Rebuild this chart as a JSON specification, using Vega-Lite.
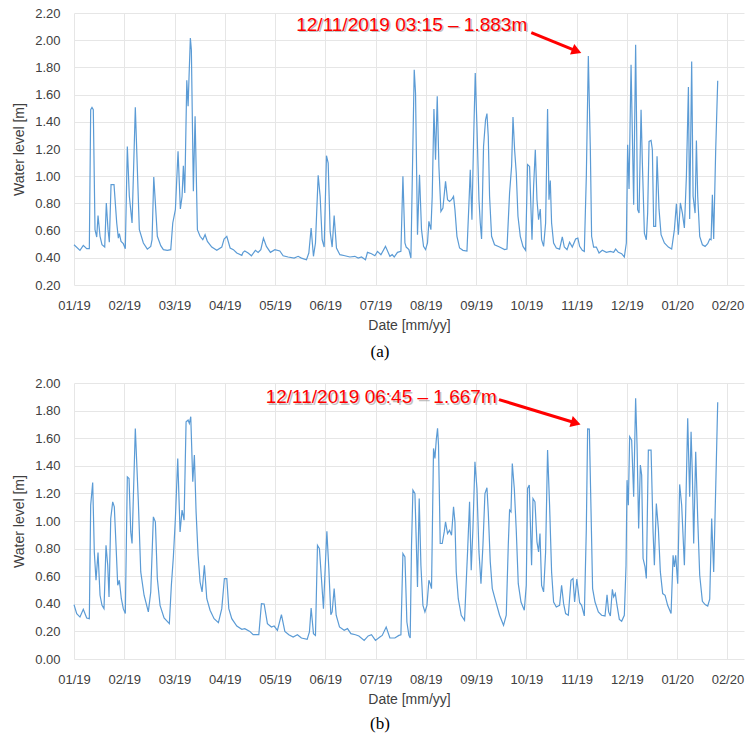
{
  "$schema": "https://vega.github.io/schema/vega-lite/v6.json",
  "padding": {"left": 12, "top": 7, "right": 10, "bottom": 5},
  "background": "white",
  "spacing": 17,
  "config": {
    "view": {"stroke": null},
    "axis": {
      "labelFont": "Liberation Sans", "labelFontSize": 13, "labelColor": "#404040",
      "titleFont": "Liberation Sans", "titleFontSize": 14, "titleFontWeight": "normal", "titleColor": "#404040",
      "gridColor": "#e6e6e6", "gridWidth": 1, "domain": false, "ticks": false,
      "labelOverlap": false, "labelFlush": false, "labelBound": false
    }
  },
  "datasets": {
    "a": [
      {"m":0,"v":0.496},{"m":0.119,"v":0.455},{"m":0.185,"v":0.491},{"m":0.253,"v":0.467},{"m":0.305,"v":0.467},{"m":0.332,"v":1.489},{"m":0.358,"v":1.506},{"m":0.384,"v":1.489},{"m":0.418,"v":0.607},{"m":0.452,"v":0.553},{"m":0.478,"v":0.710},{"m":0.518,"v":0.558},{"m":0.557,"v":0.496},{"m":0.611,"v":0.479},{"m":0.643,"v":0.803},{"m":0.677,"v":0.607},{"m":0.703,"v":0.514},{"m":0.737,"v":0.938},{"m":0.796,"v":0.938},{"m":0.850,"v":0.656},{"m":0.882,"v":0.545},{"m":0.902,"v":0.577},{"m":0.936,"v":0.521},{"m":0.981,"v":0.504},{"m":1.021,"v":0.467},{"m":1.061,"v":1.219},{"m":1.101,"v":0.852},{"m":1.155,"v":0.656},{"m":1.220,"v":1.506},{"m":1.300,"v":0.607},{"m":1.380,"v":0.509},{"m":1.459,"v":0.464},{"m":1.527,"v":0.484},{"m":1.553,"v":0.533},{"m":1.587,"v":0.994},{"m":1.619,"v":0.803},{"m":1.658,"v":0.558},{"m":1.726,"v":0.489},{"m":1.778,"v":0.460},{"m":1.857,"v":0.455},{"m":1.925,"v":0.460},{"m":1.965,"v":0.656},{"m":2.017,"v":0.754},{"m":2.070,"v":1.183},{"m":2.116,"v":0.759},{"m":2.150,"v":0.852},{"m":2.176,"v":1.077},{"m":2.204,"v":0.876},{"m":2.244,"v":1.705},{"m":2.270,"v":1.514},{"m":2.289,"v":1.734},{"m":2.315,"v":2.016},{"m":2.335,"v":1.930},{"m":2.375,"v":0.889},{"m":2.409,"v":1.440},{"m":2.455,"v":0.607},{"m":2.508,"v":0.558},{"m":2.562,"v":0.533},{"m":2.608,"v":0.570},{"m":2.654,"v":0.521},{"m":2.741,"v":0.479},{"m":2.841,"v":0.455},{"m":2.940,"v":0.479},{"m":2.986,"v":0.538},{"m":3.040,"v":0.558},{"m":3.106,"v":0.472},{"m":3.171,"v":0.460},{"m":3.239,"v":0.435},{"m":3.339,"v":0.418},{"m":3.364,"v":0.440},{"m":3.398,"v":0.450},{"m":3.464,"v":0.435},{"m":3.530,"v":0.415},{"m":3.609,"v":0.455},{"m":3.663,"v":0.440},{"m":3.717,"v":0.460},{"m":3.769,"v":0.545},{"m":3.828,"v":0.484},{"m":3.908,"v":0.440},{"m":3.996,"v":0.460},{"m":4.095,"v":0.450},{"m":4.161,"v":0.415},{"m":4.260,"v":0.406},{"m":4.380,"v":0.398},{"m":4.459,"v":0.411},{"m":4.525,"v":0.398},{"m":4.625,"v":0.386},{"m":4.672,"v":0.435},{"m":4.718,"v":0.619},{"m":4.764,"v":0.411},{"m":4.804,"v":0.509},{"m":4.858,"v":1.006},{"m":4.897,"v":0.852},{"m":4.937,"v":0.533},{"m":4.977,"v":0.479},{"m":5.023,"v":1.151},{"m":5.057,"v":1.097},{"m":5.096,"v":0.594},{"m":5.136,"v":0.479},{"m":5.176,"v":0.710},{"m":5.222,"v":0.472},{"m":5.290,"v":0.423},{"m":5.389,"v":0.415},{"m":5.489,"v":0.406},{"m":5.588,"v":0.411},{"m":5.654,"v":0.398},{"m":5.720,"v":0.406},{"m":5.799,"v":0.386},{"m":5.839,"v":0.440},{"m":5.919,"v":0.430},{"m":5.986,"v":0.415},{"m":6.038,"v":0.447},{"m":6.106,"v":0.423},{"m":6.197,"v":0.484},{"m":6.285,"v":0.411},{"m":6.331,"v":0.423},{"m":6.371,"v":0.406},{"m":6.436,"v":0.440},{"m":6.504,"v":0.447},{"m":6.544,"v":0.999},{"m":6.584,"v":0.509},{"m":6.609,"v":0.479},{"m":6.663,"v":0.460},{"m":6.703,"v":0.398},{"m":6.743,"v":1.244},{"m":6.769,"v":1.783},{"m":6.795,"v":1.612},{"m":6.834,"v":0.570},{"m":6.874,"v":1.011},{"m":6.914,"v":0.607},{"m":6.954,"v":0.484},{"m":6.994,"v":0.460},{"m":7.033,"v":0.509},{"m":7.061,"v":0.668},{"m":7.101,"v":0.607},{"m":7.127,"v":0.852},{"m":7.161,"v":1.494},{"m":7.193,"v":1.121},{"m":7.227,"v":1.587},{"m":7.260,"v":1.072},{"m":7.300,"v":0.741},{"m":7.340,"v":0.766},{"m":7.392,"v":0.962},{"m":7.432,"v":0.827},{"m":7.472,"v":0.815},{"m":7.511,"v":0.827},{"m":7.551,"v":0.852},{"m":7.579,"v":0.754},{"m":7.619,"v":0.558},{"m":7.671,"v":0.472},{"m":7.738,"v":0.455},{"m":7.818,"v":0.450},{"m":7.858,"v":0.803},{"m":7.884,"v":1.048},{"m":7.917,"v":0.680},{"m":7.949,"v":1.244},{"m":7.983,"v":1.759},{"m":8.017,"v":1.366},{"m":8.057,"v":0.827},{"m":8.083,"v":0.656},{"m":8.109,"v":0.538},{"m":8.148,"v":1.219},{"m":8.188,"v":1.415},{"m":8.216,"v":1.460},{"m":8.242,"v":1.293},{"m":8.268,"v":0.852},{"m":8.308,"v":0.558},{"m":8.367,"v":0.496},{"m":8.467,"v":0.479},{"m":8.566,"v":0.460},{"m":8.614,"v":0.464},{"m":8.666,"v":0.876},{"m":8.706,"v":1.072},{"m":8.734,"v":1.435},{"m":8.766,"v":1.195},{"m":8.799,"v":1.023},{"m":8.833,"v":0.705},{"m":8.879,"v":0.558},{"m":8.933,"v":0.484},{"m":8.985,"v":0.455},{"m":9.024,"v":1.085},{"m":9.064,"v":1.072},{"m":9.112,"v":0.533},{"m":9.144,"v":0.925},{"m":9.178,"v":1.195},{"m":9.211,"v":0.827},{"m":9.243,"v":0.680},{"m":9.277,"v":0.759},{"m":9.303,"v":0.533},{"m":9.343,"v":0.484},{"m":9.383,"v":0.656},{"m":9.422,"v":1.494},{"m":9.450,"v":0.827},{"m":9.476,"v":0.969},{"m":9.502,"v":0.656},{"m":9.542,"v":0.509},{"m":9.596,"v":0.472},{"m":9.661,"v":0.464},{"m":9.715,"v":0.553},{"m":9.755,"v":0.479},{"m":9.809,"v":0.460},{"m":9.860,"v":0.514},{"m":9.914,"v":0.479},{"m":9.980,"v":0.538},{"m":10.024,"v":0.545},{"m":10.060,"v":0.484},{"m":10.113,"v":0.455},{"m":10.153,"v":0.447},{"m":10.193,"v":0.999},{"m":10.233,"v":1.883},{"m":10.273,"v":1.195},{"m":10.298,"v":0.558},{"m":10.338,"v":0.479},{"m":10.392,"v":0.479},{"m":10.446,"v":0.435},{"m":10.511,"v":0.455},{"m":10.591,"v":0.440},{"m":10.671,"v":0.447},{"m":10.737,"v":0.440},{"m":10.776,"v":0.464},{"m":10.830,"v":0.440},{"m":10.896,"v":0.430},{"m":10.949,"v":0.406},{"m":10.989,"v":0.509},{"m":11.015,"v":1.232},{"m":11.043,"v":0.906},{"m":11.083,"v":1.820},{"m":11.135,"v":0.791},{"m":11.174,"v":1.967},{"m":11.214,"v":0.754},{"m":11.242,"v":0.729},{"m":11.282,"v":1.489},{"m":11.308,"v":1.097},{"m":11.348,"v":0.582},{"m":11.387,"v":0.533},{"m":11.413,"v":0.729},{"m":11.441,"v":1.256},{"m":11.481,"v":1.263},{"m":11.507,"v":1.195},{"m":11.533,"v":0.631},{"m":11.572,"v":0.631},{"m":11.600,"v":1.146},{"m":11.640,"v":0.754},{"m":11.680,"v":0.570},{"m":11.746,"v":0.509},{"m":11.825,"v":0.479},{"m":11.891,"v":0.464},{"m":11.945,"v":0.607},{"m":11.985,"v":0.798},{"m":12.024,"v":0.570},{"m":12.064,"v":0.803},{"m":12.104,"v":0.729},{"m":12.144,"v":0.619},{"m":12.184,"v":0.999},{"m":12.224,"v":1.656},{"m":12.249,"v":0.685},{"m":12.289,"v":1.844},{"m":12.317,"v":0.852},{"m":12.357,"v":0.729},{"m":12.383,"v":1.263},{"m":12.409,"v":0.852},{"m":12.449,"v":0.558},{"m":12.502,"v":0.496},{"m":12.556,"v":0.484},{"m":12.608,"v":0.504},{"m":12.648,"v":0.538},{"m":12.675,"v":0.533},{"m":12.701,"v":0.864},{"m":12.727,"v":0.538},{"m":12.767,"v":1.195},{"m":12.807,"v":1.702}
    ],
    "b": [
      {"m":0,"v":0.394},{"m":0.054,"v":0.329},{"m":0.119,"v":0.304},{"m":0.185,"v":0.360},{"m":0.253,"v":0.297},{"m":0.305,"v":0.292},{"m":0.332,"v":1.115},{"m":0.372,"v":1.279},{"m":0.404,"v":0.776},{"m":0.438,"v":0.571},{"m":0.478,"v":0.771},{"m":0.518,"v":0.462},{"m":0.557,"v":0.389},{"m":0.597,"v":0.365},{"m":0.637,"v":0.824},{"m":0.671,"v":0.679},{"m":0.697,"v":0.450},{"m":0.731,"v":1.018},{"m":0.770,"v":1.139},{"m":0.802,"v":1.103},{"m":0.836,"v":0.824},{"m":0.870,"v":0.534},{"m":0.902,"v":0.571},{"m":0.942,"v":0.437},{"m":0.981,"v":0.365},{"m":1.021,"v":0.329},{"m":1.061,"v":1.320},{"m":1.095,"v":1.308},{"m":1.129,"v":0.921},{"m":1.155,"v":0.837},{"m":1.220,"v":1.671},{"m":1.280,"v":1.139},{"m":1.328,"v":0.631},{"m":1.394,"v":0.462},{"m":1.479,"v":0.341},{"m":1.527,"v":0.486},{"m":1.579,"v":1.030},{"m":1.619,"v":0.994},{"m":1.658,"v":0.583},{"m":1.712,"v":0.389},{"m":1.792,"v":0.297},{"m":1.897,"v":0.256},{"m":1.937,"v":0.534},{"m":1.977,"v":0.740},{"m":2.017,"v":1.018},{"m":2.064,"v":1.453},{"m":2.110,"v":0.921},{"m":2.150,"v":1.079},{"m":2.190,"v":1.006},{"m":2.230,"v":1.719},{"m":2.270,"v":1.732},{"m":2.295,"v":1.707},{"m":2.323,"v":1.756},{"m":2.363,"v":1.284},{"m":2.395,"v":1.478},{"m":2.429,"v":1.066},{"m":2.469,"v":0.752},{"m":2.508,"v":0.558},{"m":2.548,"v":0.486},{"m":2.594,"v":0.679},{"m":2.642,"v":0.437},{"m":2.707,"v":0.353},{"m":2.787,"v":0.292},{"m":2.873,"v":0.263},{"m":2.940,"v":0.365},{"m":2.992,"v":0.583},{"m":3.040,"v":0.583},{"m":3.080,"v":0.365},{"m":3.139,"v":0.292},{"m":3.239,"v":0.239},{"m":3.339,"v":0.215},{"m":3.398,"v":0.220},{"m":3.498,"v":0.200},{"m":3.564,"v":0.176},{"m":3.677,"v":0.176},{"m":3.729,"v":0.401},{"m":3.783,"v":0.399},{"m":3.848,"v":0.256},{"m":3.928,"v":0.232},{"m":3.982,"v":0.239},{"m":4.047,"v":0.208},{"m":4.127,"v":0.321},{"m":4.195,"v":0.200},{"m":4.274,"v":0.176},{"m":4.360,"v":0.159},{"m":4.445,"v":0.176},{"m":4.525,"v":0.152},{"m":4.639,"v":0.142},{"m":4.684,"v":0.196},{"m":4.718,"v":0.370},{"m":4.764,"v":0.184},{"m":4.804,"v":0.171},{"m":4.844,"v":0.824},{"m":4.883,"v":0.800},{"m":4.923,"v":0.583},{"m":4.963,"v":0.365},{"m":5.003,"v":0.704},{"m":5.031,"v":0.926},{"m":5.070,"v":0.655},{"m":5.110,"v":0.321},{"m":5.136,"v":0.341},{"m":5.176,"v":0.510},{"m":5.216,"v":0.317},{"m":5.282,"v":0.232},{"m":5.375,"v":0.208},{"m":5.441,"v":0.220},{"m":5.509,"v":0.184},{"m":5.600,"v":0.176},{"m":5.668,"v":0.167},{"m":5.773,"v":0.135},{"m":5.853,"v":0.167},{"m":5.919,"v":0.176},{"m":5.998,"v":0.135},{"m":6.086,"v":0.159},{"m":6.132,"v":0.171},{"m":6.211,"v":0.232},{"m":6.285,"v":0.152},{"m":6.384,"v":0.152},{"m":6.464,"v":0.171},{"m":6.504,"v":0.176},{"m":6.544,"v":0.764},{"m":6.584,"v":0.740},{"m":6.623,"v":0.268},{"m":6.663,"v":0.171},{"m":6.689,"v":0.152},{"m":6.715,"v":0.824},{"m":6.743,"v":1.224},{"m":6.783,"v":1.199},{"m":6.808,"v":0.873},{"m":6.834,"v":0.522},{"m":6.868,"v":1.163},{"m":6.902,"v":0.679},{"m":6.942,"v":0.389},{"m":6.982,"v":0.341},{"m":7.022,"v":0.389},{"m":7.061,"v":0.571},{"m":7.087,"v":0.546},{"m":7.113,"v":0.510},{"m":7.153,"v":1.526},{"m":7.181,"v":1.453},{"m":7.207,"v":1.586},{"m":7.233,"v":1.671},{"m":7.252,"v":1.550},{"m":7.286,"v":0.837},{"m":7.326,"v":0.837},{"m":7.366,"v":0.921},{"m":7.392,"v":0.994},{"m":7.432,"v":0.909},{"m":7.472,"v":0.933},{"m":7.511,"v":0.897},{"m":7.551,"v":1.103},{"m":7.579,"v":0.994},{"m":7.605,"v":0.631},{"m":7.645,"v":0.437},{"m":7.704,"v":0.317},{"m":7.770,"v":0.280},{"m":7.830,"v":0.776},{"m":7.870,"v":1.139},{"m":7.903,"v":0.643},{"m":7.937,"v":0.945},{"m":7.977,"v":1.429},{"m":8.017,"v":1.236},{"m":8.057,"v":0.776},{"m":8.097,"v":0.546},{"m":8.136,"v":0.824},{"m":8.176,"v":1.199},{"m":8.216,"v":1.241},{"m":8.242,"v":1.066},{"m":8.282,"v":0.704},{"m":8.322,"v":0.510},{"m":8.375,"v":0.437},{"m":8.467,"v":0.317},{"m":8.546,"v":0.244},{"m":8.600,"v":0.317},{"m":8.640,"v":0.824},{"m":8.666,"v":1.079},{"m":8.694,"v":1.066},{"m":8.720,"v":1.417},{"m":8.760,"v":1.236},{"m":8.799,"v":0.933},{"m":8.839,"v":0.546},{"m":8.893,"v":0.413},{"m":8.959,"v":0.353},{"m":8.998,"v":0.534},{"m":9.024,"v":1.236},{"m":9.058,"v":1.260},{"m":9.104,"v":0.679},{"m":9.132,"v":1.163},{"m":9.171,"v":1.139},{"m":9.211,"v":0.849},{"m":9.243,"v":0.776},{"m":9.271,"v":0.909},{"m":9.303,"v":0.534},{"m":9.343,"v":0.486},{"m":9.383,"v":0.776},{"m":9.422,"v":1.514},{"m":9.462,"v":1.115},{"m":9.502,"v":0.631},{"m":9.542,"v":0.413},{"m":9.596,"v":0.377},{"m":9.661,"v":0.389},{"m":9.701,"v":0.534},{"m":9.741,"v":0.401},{"m":9.781,"v":0.329},{"m":9.835,"v":0.317},{"m":9.888,"v":0.571},{"m":9.928,"v":0.583},{"m":9.960,"v":0.413},{"m":10.004,"v":0.580},{"m":10.060,"v":0.408},{"m":10.099,"v":0.389},{"m":10.153,"v":0.312},{"m":10.193,"v":0.945},{"m":10.219,"v":1.667},{"m":10.253,"v":1.666},{"m":10.287,"v":1.066},{"m":10.318,"v":0.510},{"m":10.366,"v":0.413},{"m":10.432,"v":0.341},{"m":10.497,"v":0.317},{"m":10.565,"v":0.312},{"m":10.605,"v":0.466},{"m":10.637,"v":0.341},{"m":10.671,"v":0.312},{"m":10.711,"v":0.505},{"m":10.737,"v":0.450},{"m":10.770,"v":0.474},{"m":10.804,"v":0.389},{"m":10.850,"v":0.287},{"m":10.896,"v":0.273},{"m":10.949,"v":0.317},{"m":10.983,"v":0.679},{"m":11.003,"v":1.296},{"m":11.029,"v":1.115},{"m":11.055,"v":1.611},{"m":11.095,"v":1.586},{"m":11.135,"v":1.175},{"m":11.174,"v":1.889},{"m":11.202,"v":1.550},{"m":11.234,"v":0.945},{"m":11.268,"v":1.405},{"m":11.294,"v":1.333},{"m":11.322,"v":0.728},{"m":11.361,"v":0.667},{"m":11.387,"v":0.583},{"m":11.427,"v":1.514},{"m":11.481,"v":1.514},{"m":11.521,"v":0.921},{"m":11.547,"v":0.679},{"m":11.586,"v":1.127},{"m":11.626,"v":0.945},{"m":11.666,"v":0.631},{"m":11.712,"v":0.474},{"m":11.760,"v":0.462},{"m":11.811,"v":0.389},{"m":11.879,"v":0.329},{"m":11.919,"v":0.752},{"m":11.945,"v":0.667},{"m":11.971,"v":0.752},{"m":12.011,"v":0.546},{"m":12.050,"v":1.265},{"m":12.090,"v":1.115},{"m":12.144,"v":0.679},{"m":12.170,"v":1.066},{"m":12.210,"v":1.744},{"m":12.249,"v":1.175},{"m":12.277,"v":1.647},{"m":12.303,"v":1.333},{"m":12.329,"v":0.837},{"m":12.369,"v":1.502},{"m":12.409,"v":1.018},{"m":12.449,"v":0.607},{"m":12.502,"v":0.418},{"m":12.556,"v":0.394},{"m":12.608,"v":0.384},{"m":12.648,"v":0.433},{"m":12.687,"v":1.018},{"m":12.727,"v":0.631},{"m":12.767,"v":1.236},{"m":12.807,"v":1.860}
    ]
  },
  "vconcat": [
    {
      "width": 670, "height": 272,
      "title": {"text": "(a)", "orient": "bottom", "anchor": "middle", "font": "Liberation Serif", "fontSize": 17, "fontWeight": "normal", "color": "#000000", "dx": -29, "offset": 12},
      "layer": [
        {
          "data": {"name": "a"},
          "mark": {"type": "line", "color": "#5b9bd5", "strokeWidth": 1.2, "interpolate": "linear"},
          "encoding": {
            "x": {"field": "m", "type": "quantitative", "scale": {"domain": [0, 13.33], "nice": false, "zero": false},
                  "axis": {"title": "Date [mm/yy]", "values": [0,1,2,3,4,5,6,7,8,9,10,11,12,13], "tickCount": 20, "labelPadding": 14, "titlePadding": 6,
                           "labelExpr": "['01/19','02/19','03/19','04/19','05/19','06/19','07/19','08/19','09/19','10/19','11/19','12/19','01/20','02/20'][datum.value]"}},
            "y": {"field": "v", "type": "quantitative", "scale": {"domain": [0.2, 2.2], "nice": false, "zero": false},
                  "axis": {"title": "Water level [m]", "values": [0.2,0.4,0.6,0.8,1.0,1.2,1.4,1.6,1.8,2.0,2.2], "tickCount": 15, "labelOverlap": false, "format": ".2f", "labelPadding": 14, "titlePadding": 8}}
          }
        },
        {
          "data": {"values": [{"m": 9.098, "v": 2.055, "m2": 10.002, "v2": 1.920}]},
          "mark": {"type": "rule", "color": "#ff0000", "strokeWidth": 3},
          "encoding": {"x": {"field": "m", "type": "quantitative"}, "y": {"field": "v", "type": "quantitative"}, "x2": {"field": "m2"}, "y2": {"field": "v2"}}
        },
        {
          "data": {"values": [{"m": 10.002, "v": 1.920}]},
          "mark": {"type": "point", "shape": "triangle-right", "filled": true, "color": "#ff0000", "size": 130, "angle": 22, "opacity": 1},
          "encoding": {"x": {"field": "m", "type": "quantitative"}, "y": {"field": "v", "type": "quantitative"}}
        },
        {
          "data": {"values": [{"m": 6.719, "v": 2.114, "label": "12/11/2019 03:15 – 1.883m"}]},
          "mark": {"type": "text", "font": "Liberation Sans", "fontSize": 19, "color": "#9a9a9a", "opacity": 0.6, "dx": 1.5, "dy": 1.5, "align": "center", "baseline": "middle"},
          "encoding": {"x": {"field": "m", "type": "quantitative"}, "y": {"field": "v", "type": "quantitative"}, "text": {"field": "label"}}
        },
        {
          "data": {"values": [{"m": 6.719, "v": 2.114, "label": "12/11/2019 03:15 – 1.883m"}]},
          "mark": {"type": "text", "font": "Liberation Sans", "fontSize": 19, "color": "#ff0000", "align": "center", "baseline": "middle"},
          "encoding": {"x": {"field": "m", "type": "quantitative"}, "y": {"field": "v", "type": "quantitative"}, "text": {"field": "label"}}
        }
      ]
    },
    {
      "width": 670, "height": 276,
      "title": {"text": "(b)", "orient": "bottom", "anchor": "middle", "font": "Liberation Serif", "fontSize": 17, "fontWeight": "normal", "color": "#000000", "dx": -29, "offset": 10},
      "layer": [
        {
          "data": {"name": "b"},
          "mark": {"type": "line", "color": "#5b9bd5", "strokeWidth": 1.2, "interpolate": "linear"},
          "encoding": {
            "x": {"field": "m", "type": "quantitative", "scale": {"domain": [0, 13.33], "nice": false, "zero": false},
                  "axis": {"title": "Date [mm/yy]", "values": [0,1,2,3,4,5,6,7,8,9,10,11,12,13], "tickCount": 20, "labelPadding": 14, "titlePadding": 6,
                           "labelExpr": "['01/19','02/19','03/19','04/19','05/19','06/19','07/19','08/19','09/19','10/19','11/19','12/19','01/20','02/20'][datum.value]"}},
            "y": {"field": "v", "type": "quantitative", "scale": {"domain": [0, 2], "nice": false, "zero": false},
                  "axis": {"title": "Water level [m]", "values": [0,0.2,0.4,0.6,0.8,1.0,1.2,1.4,1.6,1.8,2.0], "tickCount": 15, "labelOverlap": false, "format": ".2f", "labelPadding": 14, "titlePadding": 8}}
          }
        },
        {
          "data": {"values": [{"m": 8.455, "v": 1.880, "m2": 9.984, "v2": 1.710}]},
          "mark": {"type": "rule", "color": "#ff0000", "strokeWidth": 3},
          "encoding": {"x": {"field": "m", "type": "quantitative"}, "y": {"field": "v", "type": "quantitative"}, "x2": {"field": "m2"}, "y2": {"field": "v2"}}
        },
        {
          "data": {"values": [{"m": 9.984, "v": 1.710}]},
          "mark": {"type": "point", "shape": "triangle-right", "filled": true, "color": "#ff0000", "size": 130, "angle": 17, "opacity": 1},
          "encoding": {"x": {"field": "m", "type": "quantitative"}, "y": {"field": "v", "type": "quantitative"}}
        },
        {
          "data": {"values": [{"m": 6.112, "v": 1.898, "label": "12/11/2019 06:45 – 1.667m"}]},
          "mark": {"type": "text", "font": "Liberation Sans", "fontSize": 19, "color": "#9a9a9a", "opacity": 0.6, "dx": 1.5, "dy": 1.5, "align": "center", "baseline": "middle"},
          "encoding": {"x": {"field": "m", "type": "quantitative"}, "y": {"field": "v", "type": "quantitative"}, "text": {"field": "label"}}
        },
        {
          "data": {"values": [{"m": 6.112, "v": 1.898, "label": "12/11/2019 06:45 – 1.667m"}]},
          "mark": {"type": "text", "font": "Liberation Sans", "fontSize": 19, "color": "#ff0000", "align": "center", "baseline": "middle"},
          "encoding": {"x": {"field": "m", "type": "quantitative"}, "y": {"field": "v", "type": "quantitative"}, "text": {"field": "label"}}
        }
      ]
    }
  ]
}
